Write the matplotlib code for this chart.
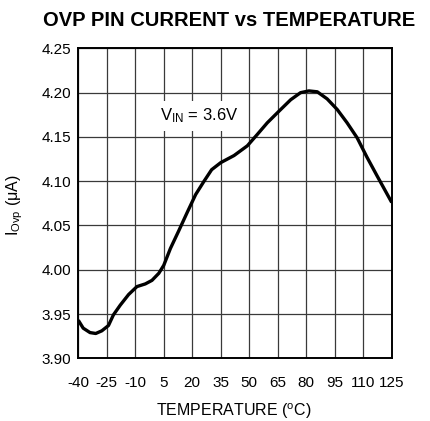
import matplotlib
matplotlib.use('Agg')
import matplotlib.pyplot as plt

plt.rcParams['font.family'] = ['Liberation Sans', 'DejaVu Sans']
plt.rcParams['mathtext.fontset'] = 'custom'
plt.rcParams['mathtext.rm'] = 'Liberation Sans'
plt.rcParams['mathtext.it'] = 'Liberation Sans'

# curve
temp = [-40, -37.4, -33.8, -30.8, -27.6, -24.1, -21.5, -17.9, -13.5, -9.1,
        -4.7, -1.2, 2.4, 5.0, 8.5, 12.9, 17.4, 21.8, 26.2, 30.2, 35,
        42, 49, 54.3, 59.5, 65.6, 71.8, 77, 81.4, 85.8, 91, 96.3, 101.5,
        106.8, 112, 117.3, 125]
i_ovp = [3.943, 3.934, 3.929, 3.928, 3.931, 3.937, 3.949, 3.960, 3.972, 3.981,
         3.984, 3.988, 3.996, 4.005, 4.024, 4.044, 4.065, 4.085, 4.100, 4.113,
         4.121, 4.129, 4.140, 4.153, 4.166, 4.179, 4.192, 4.200, 4.202, 4.201,
         4.193, 4.181, 4.166, 4.149, 4.127, 4.106, 4.076]

xticks = [-40, -25, -10, 5, 20, 35, 50, 65, 80, 95, 110, 125]
yticks = [3.90, 3.95, 4.00, 4.05, 4.10, 4.15, 4.20, 4.25]

fig = plt.figure(figsize=(4.3, 4.21), dpi=100)
ax = fig.add_axes([0.182, 0.149, 0.729, 0.736])

ax.plot(temp, i_ovp, color='black', linewidth=2.4, zorder=3,
        solid_joinstyle='round', solid_capstyle='butt')

ax.set_xlim(-40, 125)
ax.set_ylim(3.90, 4.25)
ax.set_xticks(xticks)
ax.set_yticks(yticks)
ax.set_xticklabels([str(t) for t in xticks])
ax.set_yticklabels(['%.2f' % v for v in yticks])
ax.tick_params(length=0, labelsize=11)
ax.tick_params(axis='x', pad=13)
ax.tick_params(axis='y', pad=5)
ax.grid(True, color='#3a3a3a', linewidth=0.9)
for s in ax.spines.values():
    s.set_linewidth(1.4)

ax.text(23.4, 4.174, r'V$_{\rm IN}$ = 3.6V', ha='center', va='center', fontsize=12,
        bbox=dict(facecolor='white', edgecolor='none', pad=4), zorder=2)

fig.text(229 / 430, 1 - 21 / 421, 'OVP PIN CURRENT vs TEMPERATURE', fontsize=14.5,
         fontweight='bold', ha='center', va='center')
ax.set_xlabel(r'TEMPERATURE ($^{\rm o}$C)', fontsize=11.5)
ax.xaxis.label.set_va('center')
ax.xaxis.set_label_coords(0.497, -0.172)
ax.set_ylabel(r'I$_{\rm Ovp}$ ($\mu$A)', fontsize=11.5)
ax.yaxis.label.set_va('center')
ax.yaxis.set_label_coords(-0.202, 0.494)

fig.savefig('out.png', dpi=100)
